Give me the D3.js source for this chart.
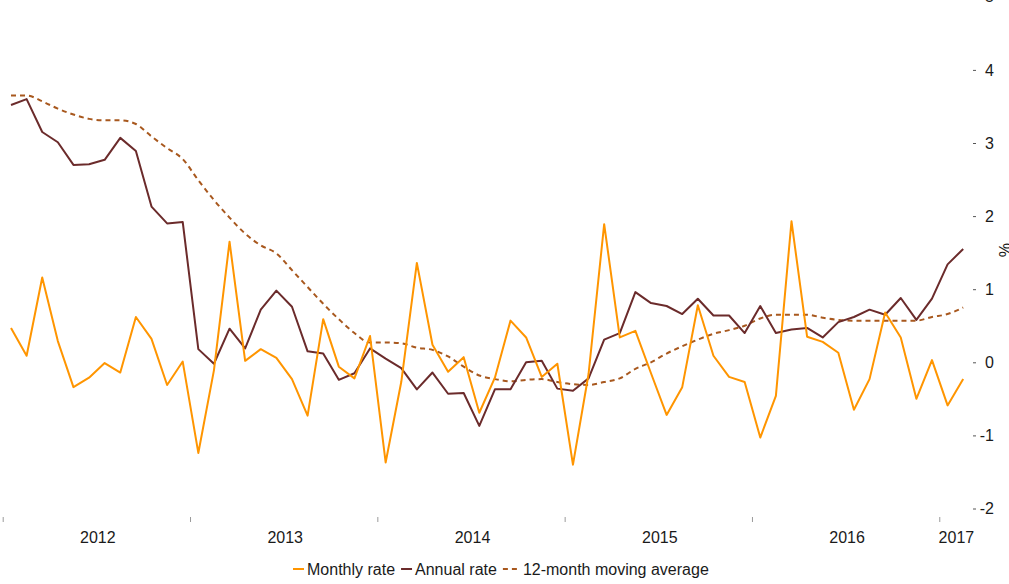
<!DOCTYPE html>
<html>
<head>
<meta charset="utf-8">
<script src="https://cdn.jsdelivr.net/npm/d3@7"></script>
<style>
  html, body { margin: 0; padding: 0; background: #fff; }
  svg { display: block; font-family: "Liberation Sans", Arial, sans-serif; }
</style>
</head>
<body>
<svg id="chart" width="1009" height="584"></svg>
<script>
// Months Jan 2012 .. Feb 2017
const years = ["2012", "2013", "2014", "2015", "2016", "2017"];
const monthlyRate = [
  0.47, 0.09, 1.16, 0.29, -0.34, -0.21, -0.01, -0.14, 0.62, 0.32, -0.31, 0.01,
  -1.24, -0.11, 1.65, 0.02, 0.18, 0.06, -0.23, -0.73, 0.59, -0.06, -0.22, 0.36,
  -1.37, -0.27, 1.36, 0.24, -0.13, 0.07, -0.69, -0.21, 0.57, 0.34, -0.20, -0.02,
  -1.40, -0.16, 1.89, 0.34, 0.43, -0.15, -0.72, -0.34, 0.78, 0.09, -0.20, -0.27,
  -1.03, -0.46, 1.93, 0.35, 0.28, 0.13, -0.65, -0.23, 0.68, 0.34, -0.50, 0.03,
  -0.59, -0.23
];
const annualRate = [
  3.52, 3.60, 3.15, 3.01, 2.70, 2.71, 2.77, 3.07, 2.89, 2.13, 1.90, 1.92,
  0.18, -0.02, 0.46, 0.19, 0.72, 0.98, 0.76, 0.15, 0.12, -0.24, -0.15, 0.19,
  0.05, -0.08, -0.37, -0.14, -0.43, -0.42, -0.87, -0.37, -0.37, 0.00, 0.02, -0.36,
  -0.39, -0.22, 0.31, 0.40, 0.96, 0.81, 0.77, 0.66, 0.87, 0.64, 0.64, 0.40,
  0.77, 0.40, 0.45, 0.47, 0.34, 0.55, 0.62, 0.72, 0.65, 0.88, 0.58, 0.87,
  1.34, 1.55
];
const movingAverage = [
  3.65, 3.65, 3.57, 3.47, 3.39, 3.33, 3.31, 3.31, 3.26, 3.09, 2.93, 2.78,
  2.49, 2.22, 1.98, 1.76, 1.60, 1.49, 1.26, 1.03, 0.80, 0.59, 0.40, 0.27,
  0.27, 0.26, 0.20, 0.17, 0.08, -0.06, -0.18, -0.23, -0.26, -0.24, -0.23, -0.27,
  -0.30, -0.31, -0.27, -0.22, -0.09, 0.00, 0.12, 0.22, 0.31, 0.39, 0.44, 0.50,
  0.60, 0.65, 0.65, 0.65, 0.61, 0.58, 0.57, 0.57, 0.57, 0.57, 0.57, 0.62,
  0.66, 0.75
];
const yTicks = [-2, -1, 0, 1, 2, 3, 4, 5];
const seriesNames = ["Monthly rate", "Annual rate", "12-month moving average"];

const colors = { monthly: "#FF9500", annual: "#6B2B2B", avg: "#A8581E" };

const svg = d3.select("#chart");
const n = monthlyRate.length;
const idx = d3.range(n);

const x = d3.scaleBand().domain(idx).range([3.2, 971]).paddingInner(0).paddingOuter(0);
const cx = i => x(i) + x.bandwidth() / 2;
const y = d3.scaleLinear().domain([-2, 5]).range([508.5, -3.2]);

// X axis: year boundary ticks and centered year labels
const yearStarts = years.map((yr, k) => k * 12);
const xg = svg.append("g");
xg.selectAll("line.tick").data(yearStarts).enter().append("line")
  .attr("x1", d => x(d)).attr("x2", d => x(d))
  .attr("y1", 517).attr("y2", 522)
  .attr("stroke", "#9a9a9a").attr("stroke-width", 1);
xg.selectAll("text").data(years).enter().append("text")
  .attr("x", (d, k) => {
    const s = k * 12, e = Math.min(n, s + 12) - 1;
    return (x(s) + x(e) + x.bandwidth()) / 2 + 1;
  })
  .attr("y", 543)
  .attr("text-anchor", "middle")
  .attr("font-size", 16)
  .attr("fill", "#1a1a1a")
  .text(d => d);

// Y axis on the right
const yAxis = d3.axisRight(y).tickValues(yTicks).tickSize(3).tickPadding(0)
  .tickFormat(d3.format("d"));
const yg = svg.append("g").attr("transform", "translate(973,0)").call(yAxis);
yg.select(".domain").remove();
yg.selectAll(".tick line").attr("stroke", "#555").attr("stroke-width", 1);
yg.selectAll(".tick text")
  .attr("x", 21).attr("text-anchor", "end")
  .attr("font-size", 16).attr("font-family", "Liberation Sans, Arial, sans-serif")
  .attr("fill", "#1a1a1a")
  .text(d => d < 0 ? "-" + Math.abs(d) : d);

svg.append("text")
  .attr("transform", "translate(999,250) rotate(90)")
  .attr("text-anchor", "middle")
  .attr("font-size", 16)
  .attr("fill", "#1a1a1a")
  .text("%");

// Lines
const lineLin = d3.line().x((d, i) => cx(i)).y(d => y(d));
const lineSmooth = d3.line().x((d, i) => cx(i)).y(d => y(d)).curve(d3.curveMonotoneX);

svg.append("path").datum(movingAverage)
  .attr("d", lineSmooth).attr("fill", "none")
  .attr("stroke", colors.avg).attr("stroke-width", 2)
  .attr("stroke-dasharray", "5,4");
svg.append("path").datum(annualRate)
  .attr("d", lineLin).attr("fill", "none")
  .attr("stroke", colors.annual).attr("stroke-width", 2)
  .attr("stroke-linejoin", "round");
svg.append("path").datum(monthlyRate)
  .attr("d", lineLin).attr("fill", "none")
  .attr("stroke", colors.monthly).attr("stroke-width", 2)
  .attr("stroke-linejoin", "round");

// Legend
const legend = svg.append("g").attr("transform", "translate(0,569)");
const items = [
  { name: seriesNames[0], color: colors.monthly, dash: null },
  { name: seriesNames[1], color: colors.annual, dash: null },
  { name: seriesNames[2], color: colors.avg, dash: "5,4" }
];
let lx = 293;
items.forEach(it => {
  const symW = it.dash ? 17 : 11;
  legend.append("line")
    .attr("x1", lx).attr("x2", lx + symW).attr("y1", 0).attr("y2", 0)
    .attr("stroke", it.color).attr("stroke-width", 2)
    .attr("stroke-dasharray", it.dash);
  const t = legend.append("text")
    .attr("x", lx + symW + 3).attr("y", 5.5)
    .attr("font-size", 16).attr("fill", "#1a1a1a")
    .text(it.name);
  lx = lx + symW + 3 + t.node().getComputedTextLength() + 6;
});
</script>
</body>
</html>
